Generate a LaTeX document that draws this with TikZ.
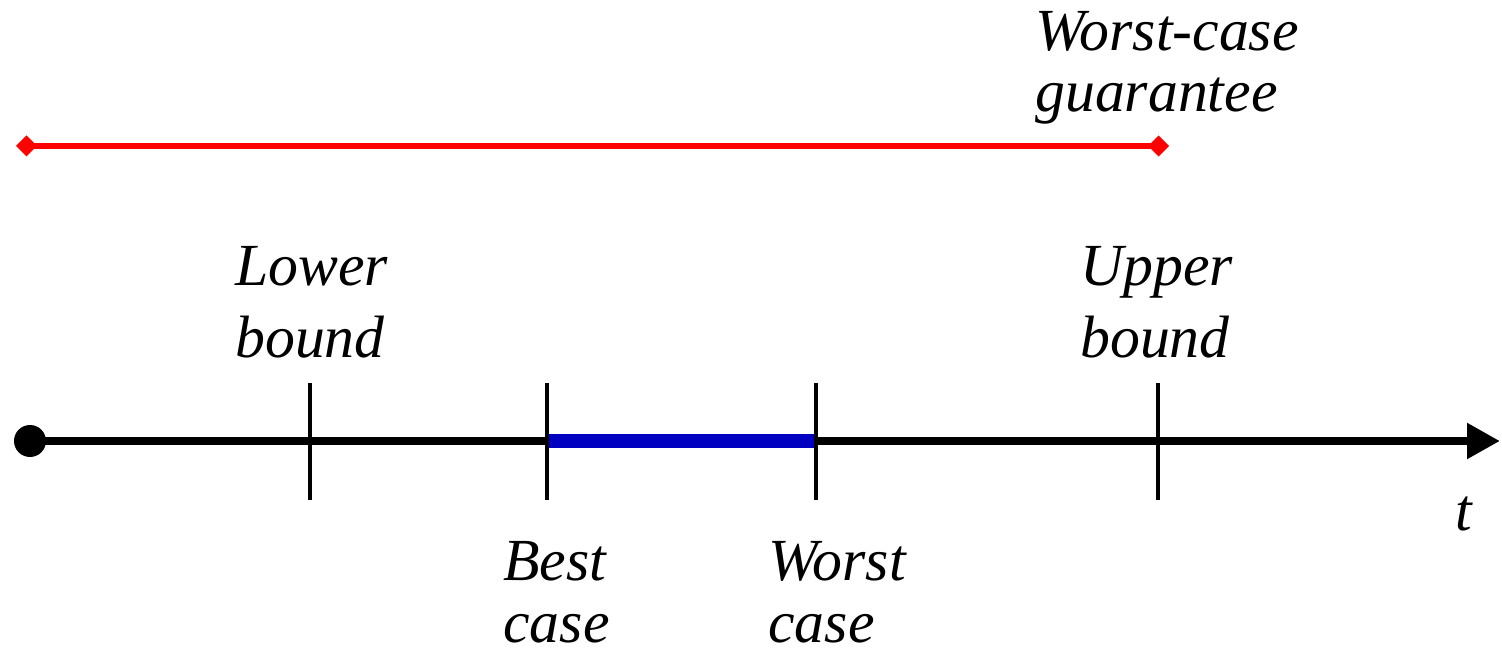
\documentclass[tikz,border=0pt]{standalone}
\usepackage{fontspec}
\setmainfont{Liberation Serif}
\usepackage{tikz}
\usetikzlibrary{arrows.meta,calc,positioning}
\definecolor{intblue}{RGB}{0,0,192}
\tikzstyle{lbl}=[align=left, inner sep=0pt, anchor=base west, font=\itshape\fontsize{34}{#1}\selectfont]
\tikzset{lbl/.default=35pt}
\tikzstyle{tick}=[line width=2.8pt]

\begin{document}
\begin{tikzpicture}
\useasboundingbox (0,0) rectangle (30.04,13.04);

% axe du temps
\coordinate (o) at (0.6,4.22);
\coordinate (fin) at (30.0,4.22);
\coordinate (lb) at (6.2,4.22);
\coordinate (bc) at (10.94,4.22);
\coordinate (wc) at (16.32,4.22);
\coordinate (ub) at (23.16,4.22);

\draw[-{Triangle[length=0.66cm, width=0.68cm]}, line width=5.1pt] (o) -- (fin);
\fill (o) circle (0.32);

% intervalle
\draw[line width=8.5pt, intblue] (bc) -- (wc);

\foreach \p in {lb,bc,wc,ub}
  \draw[tick] ($(\p)+(0,1.16)$) -- ($(\p)+(0,-1.18)$);

% garantie
\coordinate (g0) at (0.32,10.12);
\coordinate (g1) at (23.38,10.12);
\draw[{Diamond[length=0.42cm, width=0.42cm]}-{Diamond[length=0.42cm, width=0.42cm]}, line width=3.4pt, red] (g0) -- (g1);

% texte (ancre sur la derniere ligne)
\node[lbl=41.5pt] (lower) at (4.7,5.88) {Lower\\bound};
\node[lbl=41.5pt] (upper) at (21.6,5.88) {Upper\\bound};
\node[lbl=35pt] (best) at (10.06,0.2) {Best\\case};
\node[lbl=35pt] (worst) at (15.36,0.2) {Worst\\case};
\node[lbl=35pt] (guar) at (20.7,10.8) {Worst-case\\guarantee};
\node[lbl] (t) at (29.1,2.44) {t};

\end{tikzpicture}
\end{document}
